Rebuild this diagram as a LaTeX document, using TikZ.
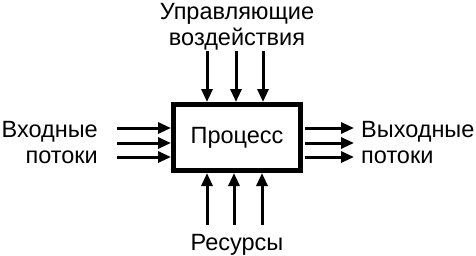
\documentclass[tikz,border=0pt]{standalone}
\usepackage{fontspec}
\setmainfont{Liberation Sans}
\usetikzlibrary{arrows.meta}
\begin{document}
\begin{tikzpicture}[x=1pt, y=-1pt, >={Triangle[length=13pt,width=11pt]},
	flow/.style={->, line width=3pt},
	lbl/.style={font=\fontsize{23.5}{26}\selectfont, inner sep=0pt}]
	% Bounding box of the whole figure
	\useasboundingbox (0,0) rectangle (476,255);
	
	% Process block
	\node[draw, line width=5pt, minimum width=127pt, minimum height=66pt, lbl]
		(proc) at (237,137.5) {Процесс};
	
	% Input flows (left) and output flows (right)
	\foreach \i/\y in {1/128, 2/143, 3/157} {
		\coordinate (in\i) at (117,\y);
		\coordinate (out\i) at (354,\y);
		\draw[flow] (in\i) -- (in\i -| proc.west);
		\draw[flow] (out\i -| proc.east) ++(1.5,0) -- (out\i);
	}
	
	% Control (top) and resources (bottom)
	\foreach \i/\x/\xr in {1/207/207, 2/236/234, 3/263/262} {
		\coordinate (ctl\i) at (\x,51);
		\coordinate (res\i) at (\xr,225);
		\draw[flow] (ctl\i) -- (ctl\i |- proc.north);
		\draw[flow] (res\i) -- (res\i |- proc.south);
	}
	
	% Labels
	\node[lbl, align=center, anchor=north] (ctl) at (237,3) {Управляющие\\воздействия};
	\node[lbl, align=right, anchor=east] (inp) at (98,143) {Входные\\потоки};
	\node[lbl, align=left, anchor=west] (outp) at (361,143) {Выходные\\потоки};
	\node[lbl, anchor=base] (res) at (237,250) {Ресурсы};
\end{tikzpicture}
\end{document}
